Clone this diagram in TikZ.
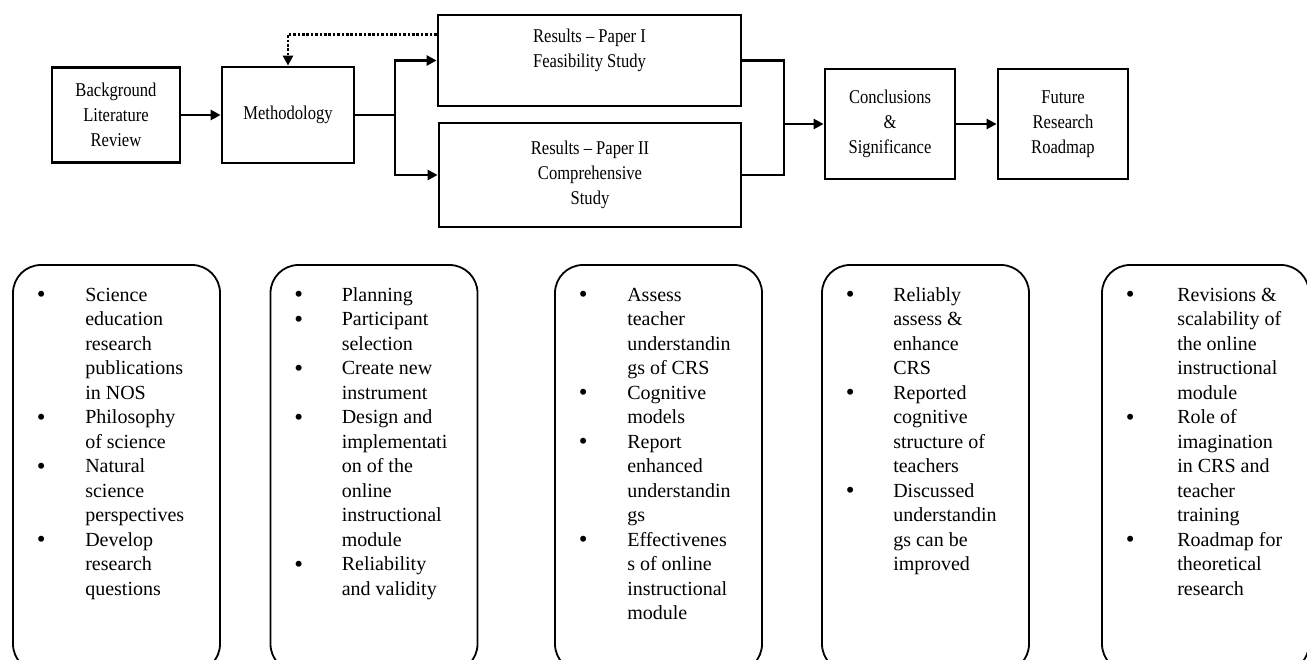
\documentclass[tikz,border=0pt]{standalone}
\usepackage{fontspec}
\setmainfont{Liberation Serif}
\newfontfamily\topfont[FakeStretch=0.85]{Liberation Serif}
\usetikzlibrary{arrows.meta,calc}
\newcommand\bul{\raisebox{-1.5pt}{\fontsize{25}{24.5}\selectfont\textbullet}}
\begin{document}
\begin{tikzpicture}[x=1pt,y=-1pt,
 topbox/.style={draw,line width=2.8pt,align=center,font=\topfont\fontsize{19.5}{25}\selectfont,inner sep=0pt},
 listbox/.style={draw,line width=1.8pt,rounded corners=28pt,minimum width=207pt,minimum height=407pt,inner sep=0pt},
 listtext/.style={anchor=north west,inner sep=0pt,font=\fontsize{20}{24.5}\selectfont},
 conn/.style={line width=2.8pt},
 arr/.style={conn,-{Triangle[length=10pt,width=10pt]}},
 fb/.style={line width=2.6pt,dash pattern=on 2.6pt off 1.8pt,-{Triangle[length=10pt,width=10pt]}}]
\useasboundingbox (0,0) rectangle (1307,659);
\clip (0,0) rectangle (1307,659);

% top row
\node[topbox,minimum width=128pt,minimum height=95pt] (bg) at (116,115) {Background\\Literature\\Review};
\node[topbox,minimum width=132pt,minimum height=96pt] (meth) at (288,115) {Methodology};
\node[topbox,minimum width=303pt,minimum height=91pt] (p1) at (589.5,60.5) {Results – Paper I\\Feasibility Study\\~};
\node[topbox,minimum width=302pt,minimum height=104pt] (p2) at (590,175) {Results – Paper II\\Comprehensive\\Study};
\node[topbox,minimum width=130pt,minimum height=110pt] (conc) at (890,124) {Conclusions\\\&\\Significance};
\node[topbox,minimum width=130pt,minimum height=110pt] (fut) at (1063,124) {Future\\Research\\Roadmap};

\coordinate (j1) at (395,115);
\coordinate (j2) at (784,124);
\draw[arr] (bg.east) -- (meth.west);
\draw[arr] (meth.east) -- (j1) |- (p1.west);
\draw[arr] (j1) |- (p2.west);
\draw[conn] (p1.east) -| (j2) |- (p2.east);
\draw[arr] (j2) -- (conc.west);
\draw[arr] (conc.east) -- (fut.west);
\draw[fb] ($(p1.north west)!0.22!(p1.south west)$) -| (meth.north);

% bottom row
\node[listbox] (b1) at (116.5,468.5) {};
\node[listbox] (b2) at (374,468.5) {};
\node[listbox] (b3) at (658.5,468.5) {};
\node[listbox] (b4) at (925.5,468.5) {};
\node[listbox] (b5) at (1205.5,468.5) {};

\node[listtext] (t1) at ($(b1.north west)+(24.5,19.85)$) {\begin{tabular}{@{}p{48.5pt}@{}l@{}}
\bul & Science\\ & education\\ & research\\ & publications\\ & in NOS\\
\bul & Philosophy\\ & of science\\
\bul & Natural\\ & science\\ & perspectives\\
\bul & Develop\\ & research\\ & questions
\end{tabular}};
\node[listtext] (t2) at ($(b2.north west)+(24.5,19.85)$) {\begin{tabular}{@{}p{47.5pt}@{}l@{}}
\bul & Planning\\
\bul & Participant\\ & selection\\
\bul & Create new\\ & instrument\\
\bul & Design and\\ & implementati\\ & on of the\\ & online\\ & instructional\\ & module\\
\bul & Reliability\\ & and validity
\end{tabular}};
\node[listtext] (t3) at ($(b3.north west)+(24.5,19.85)$) {\begin{tabular}{@{}p{48.5pt}@{}l@{}}
\bul & Assess\\ & teacher\\ & understandin\\ & gs of CRS\\
\bul & Cognitive\\ & models\\
\bul & Report\\ & enhanced\\ & understandin\\ & gs\\
\bul & Effectivenes\\ & s of online\\ & instructional\\ & module
\end{tabular}};
\node[listtext] (t4) at ($(b4.north west)+(24.5,19.85)$) {\begin{tabular}{@{}p{47.5pt}@{}l@{}}
\bul & Reliably\\ & assess \&\\ & enhance\\ & CRS\\
\bul & Reported\\ & cognitive\\ & structure of\\ & teachers\\
\bul & Discussed\\ & understandin\\ & gs can be\\ & improved
\end{tabular}};
\node[listtext] (t5) at ($(b5.north west)+(24.5,19.85)$) {\begin{tabular}{@{}p{51.5pt}@{}l@{}}
\bul & Revisions \&\\ & scalability of\\ & the online\\ & instructional\\ & module\\
\bul & Role of\\ & imagination\\ & in CRS and\\ & teacher\\ & training\\
\bul & Roadmap for\\ & theoretical\\ & research
\end{tabular}};
\end{tikzpicture}
\end{document}
